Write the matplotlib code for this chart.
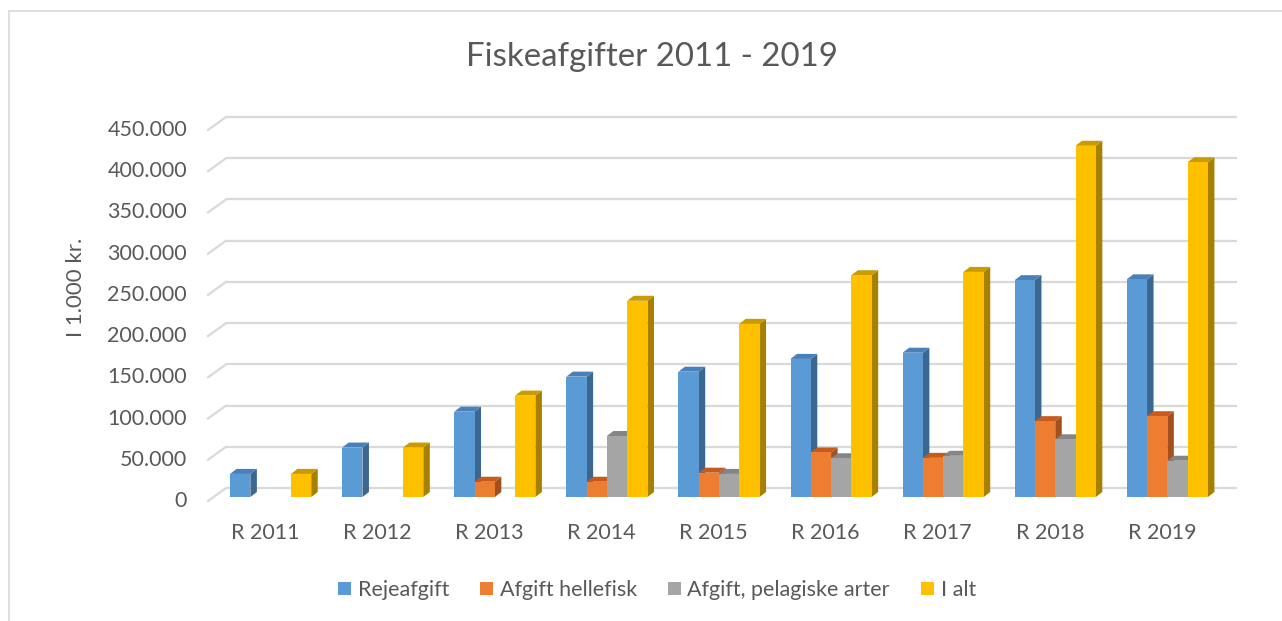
import matplotlib
matplotlib.use("Agg")
import matplotlib.pyplot as plt
from matplotlib.patches import Rectangle, Polygon, Patch
from matplotlib.lines import Line2D
from matplotlib.transforms import ScaledTranslation

# ---------------- data ----------------
categories = ['R 2011', 'R 2012', 'R 2013', 'R 2014', 'R 2015',
              'R 2016', 'R 2017', 'R 2018', 'R 2019']
series_names = ['Rejeafgift', 'Afgift hellefisk', 'Afgift, pelagiske arter', 'I alt']
rejeafgift = [28000, 60000, 103500, 146000, 152000, 167500, 175000, 263000, 264000]
hellefisk = [0, 0, 18500, 18500, 29500, 54000, 47500, 92000, 98000]
pelagiske = [0, 0, 0, 74000, 28000, 47000, 50000, 70000, 44000]
i_alt = [28000, 60000, 123000, 238000, 210000, 269000, 273000, 426000, 406000]
y_ticks = [0, 50000, 100000, 150000, 200000, 250000, 300000, 350000, 400000, 450000]
y_tick_labels = ['0', '50.000', '100.000', '150.000', '200.000', '250.000',
                 '300.000', '350.000', '400.000', '450.000']
title = 'Fiskeafgifter 2011 - 2019'
y_label = 'I 1.000 kr.'

# ---------------- style ----------------
front_colors = ['#5B9BD5', '#ED7D31', '#A5A5A5', '#FFC000']
top_colors = ['#4A80B9', '#C65B1D', '#858585', '#C99B00']
side_colors = ['#3B6891', '#A2501C', '#7B7B7B', '#A88000']
text_color = '#595959'
grid_color = '#D9D9D9'
plt.rcParams['font.family'] = ['Lato', 'DejaVu Sans']

W, H, DPI = 1282, 621, 100
fig = plt.figure(figsize=(W / DPI, H / DPI), dpi=DPI)
fig.patch.set_facecolor('white')

# back wall of plot area (pixels)
wall_l, wall_r, wall_top, wall_bot = 226, 1237, 117, 488
ax = fig.add_axes([wall_l / W, (H - wall_bot) / H, (wall_r - wall_l) / W, (wall_bot - wall_top) / H])
ax.set_xlim(-0.51, len(categories) - 1 + 0.51)
ax.set_ylim(0, 450000)
ax.axis('off')

def px_offset(dx, dy):
    return ScaledTranslation(dx / DPI, dy / DPI, fig.dpi_scale_trans)

# pixel -> data conversion
p0 = ax.transData.transform((0, 0))
p1 = ax.transData.transform((1, 100000))
px_per_x = p1[0] - p0[0]
px_per_y = (p1[1] - p0[1]) / 100000.0

# depth geometry (pixels)
side_dx, side_dy = -18, -13      # left wall diagonal toward viewer
front_dx, front_dy = -12.5, -9   # bar front face relative to back wall
bar_ddx, bar_ddy = 6.5, 5        # bar depth

# gridlines on back wall + left wall diagonals
xmin = ax.get_xlim()[0]
xmax = ax.get_xlim()[1]
for v, lab in zip(y_ticks, y_tick_labels):
    ax.plot([xmin, xmax], [v, v], color=grid_color, lw=1.6, zorder=0,
            clip_on=False, solid_capstyle='butt')
    ax.plot([xmin, xmin + side_dx / px_per_x], [v, v + side_dy / px_per_y],
            color=grid_color, lw=1.6, zorder=0, clip_on=False)
    ax.text(xmin, v, lab, transform=ax.transData + px_offset(side_dx - 21, side_dy),
            ha='right', va='center', fontsize=15.5, color=text_color)

# category labels
for i, c in enumerate(categories):
    ax.text(i, 0, c, transform=ax.transData + px_offset(side_dx, -45),
            ha='center', va='center', fontsize=15.5, color=text_color)

# bars
series = [rejeafgift, hellefisk, pelagiske, i_alt]
bw = 0.181
trF = ax.transData + px_offset(front_dx, front_dy)
ddx = bar_ddx / px_per_x
ddy = bar_ddy / px_per_y
for i in range(len(categories)):
    for k, vals in enumerate(series):
        v = vals[i]
        if v <= 0:
            continue
        xc = i + (k - 1.5) * bw
        xl, xr = xc - bw / 2, xc + bw / 2
        side = Polygon([(xr, 0), (xr + ddx, ddy), (xr + ddx, v + ddy), (xr, v)],
                       closed=True, facecolor=side_colors[k], edgecolor='none',
                       transform=trF, clip_on=False, zorder=2)
        top = Polygon([(xl, v), (xr, v), (xr + ddx, v + ddy), (xl + ddx, v + ddy)],
                      closed=True, facecolor=top_colors[k], edgecolor='none',
                      transform=trF, clip_on=False, zorder=2)
        front = Rectangle((xl, 0), bw, v, facecolor=front_colors[k], edgecolor='none',
                          transform=trF, clip_on=False, zorder=2)
        ax.add_patch(side)
        ax.add_patch(top)
        ax.add_patch(front)

# title and axis label
fig.text(652 / W, 1 - 57 / H, title, ha='center', va='center', fontsize=23.8, color=text_color)
fig.text(76 / W, 1 - 287 / H, y_label, ha='center', va='center', rotation=90,
         fontsize=16, color=text_color)

# legend
handles = [Patch(facecolor=c, edgecolor='none') for c in front_colors]
fig.legend(handles, series_names, loc='center', bbox_to_anchor=(657 / W, 1 - 590 / H),
           ncol=4, frameon=False, fontsize=15.5, handlelength=0.6, handleheight=0.6,
           handletextpad=0.3, columnspacing=1.45, labelcolor=text_color)

# chart border (left and top visible)
fig.add_artist(Line2D([9 / W, 9 / W], [0, 1 - 11 / H], transform=fig.transFigure,
                      color=grid_color, lw=1.2))
fig.add_artist(Line2D([9 / W, 1], [1 - 11 / H, 1 - 11 / H], transform=fig.transFigure,
                      color=grid_color, lw=1.2))

fig.savefig('out.png', dpi=DPI)
